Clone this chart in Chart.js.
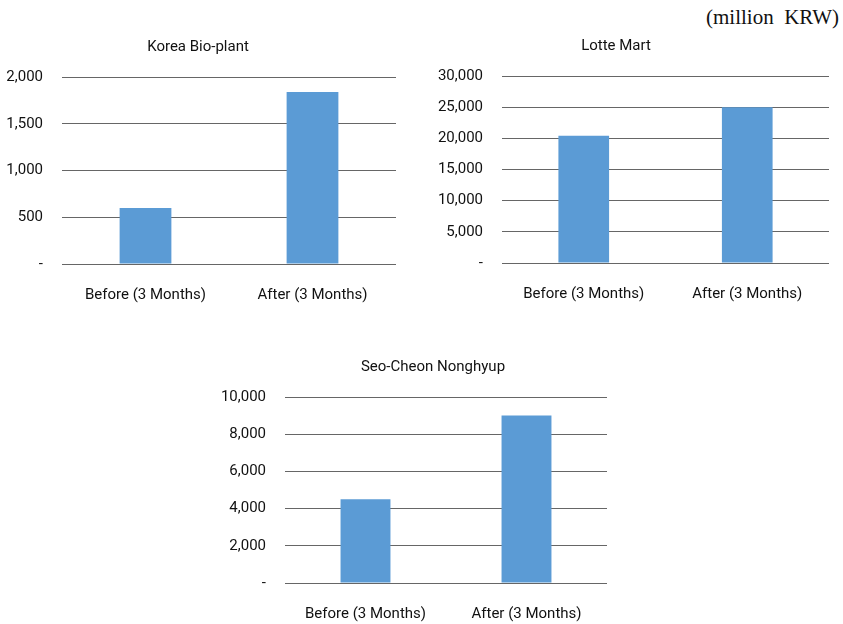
<!DOCTYPE html>
<html>
<head>
<meta charset="utf-8">
<script src="https://cdn.jsdelivr.net/npm/chart.js@4"></script>
<style>
    body { margin: 0; width: 843px; height: 624px; background: #fff; position: relative; overflow: hidden; }
    .box { position: absolute; }
    #unit { position: absolute; right: 4px; top: 5px; font-family: "Liberation Serif", "DejaVu Serif", serif; font-size: 21px; color: #111; }
</style>
</head>
<body>
<div id="unit">(million&nbsp;&nbsp;KRW)</div>
<div class="box" style="left:0px; top:30px; width:410px; height:280px;"><canvas id="bioChart"></canvas></div>
<div class="box" style="left:403px; top:29px; width:440px; height:281px;"><canvas id="lotteChart"></canvas></div>
<div class="box" style="left:200px; top:350px; width:466px; height:274px;"><canvas id="seoChart"></canvas></div>

<script>
// data
const categories = ["Before (3 Months)", "After (3 Months)"];
const koreaBioPlant = [600, 1840];
const lotteMart = [20400, 25000];
const seoCheonNonghyup = [4500, 9000];
const bioTicks = { max: 2000, step: 500 };
const lotteTicks = { max: 30000, step: 5000 };
const seoTicks = { max: 10000, step: 2000 };

const FONT = "Roboto, 'Open Sans', sans-serif";

// yWidth: left axis box, xHeight: bottom axis box, rightWidth: empty box on the right
function makeChart(id, title, values, ticks, yWidth, xHeight, rightWidth, padRight) {
    new Chart(document.getElementById(id), {
        type: "bar",
        data: {
            labels: categories,
            datasets: [{
                label: title,
                data: values,
                backgroundColor: "#5B9BD5",
                borderWidth: 0,
                categoryPercentage: 1,
                barPercentage: 0.31
            }]
        },
        options: {
            responsive: true,
            maintainAspectRatio: false,
            animation: false,
            layout: { padding: { left: 0, right: padRight, top: 0, bottom: 0 } },
            plugins: {
                legend: { display: false },
                tooltip: { enabled: false },
                title: {
                    display: true,
                    text: title,
                    color: "#111",
                    font: { family: FONT, size: 15, weight: "normal" },
                    padding: { top: 8, bottom: 21 }
                }
            },
            scales: {
                x: {
                    grid: { display: false, drawTicks: false },
                    border: { display: false },
                    ticks: { color: "#111", font: { family: FONT, size: 15 }, padding: 22, maxRotation: 0 },
                    afterFit: s => { s.height = xHeight; }
                },
                y: {
                    min: 0,
                    max: ticks.max,
                    grid: { color: "#666", lineWidth: 1, drawTicks: false },
                    border: { display: false },
                    ticks: {
                        stepSize: ticks.step,
                        color: "#111",
                        font: { family: FONT, size: 15 },
                        padding: 19,
                        callback: v => v === 0 ? "-" : v.toLocaleString("en-US")
                    },
                    afterFit: s => { s.width = yWidth; }
                },
                spacer: {
                    position: "right",
                    display: rightWidth > 0,
                    grid: { display: false, drawTicks: false },
                    border: { display: false },
                    ticks: { display: false },
                    afterFit: s => { s.width = rightWidth; }
                }
            }
        }
    });
}

makeChart("bioChart", "Korea Bio-plant", koreaBioPlant, bioTicks, 62, 46, 0, 14);
makeChart("lotteChart", "Lotte Mart", lotteMart, lotteTicks, 99, 47, 0, 14);
makeChart("seoChart", "Seo-Cheon Nonghyup", seoCheonNonghyup, seoTicks, 85, 41, 59, 0);
</script>
</body>
</html>
